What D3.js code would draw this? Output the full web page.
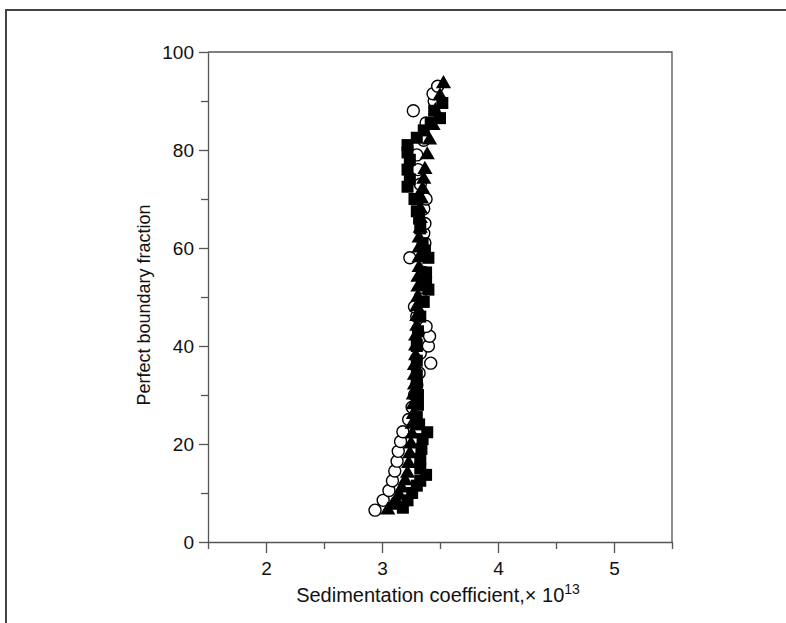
<!DOCTYPE html>
<html>
<head>
<meta charset="utf-8">
<script src="https://cdn.jsdelivr.net/npm/d3@7"></script>
<style>
  body { margin: 0; background: #fff; }
  svg { display: block; font-family: "Liberation Sans", Arial, sans-serif; }
  .axis text { font-size: 19px; fill: #111; }
  .axis line, .axis path { stroke: #555; stroke-width: 1.3; }
</style>
</head>
<body>
<div id="chart"></div>
<script>
// Perfect boundary fraction vs sedimentation coefficient, three runs

const xTicks = [2, 3, 4, 5]
const xMinor = [1.5, 2.5, 3.5, 4.5, 5.5]
const yTicks = [0, 20, 40, 60, 80, 100]
const yMinor = [10, 30, 50, 70, 90]

// open circles
const circleX = [2.94, 3.01, 3.06, 3.09, 3.11, 3.13, 3.14, 3.16, 3.18, 3.23, 3.26, 3.28, 3.30, 3.32, 3.42, 3.33, 3.40, 3.41, 3.38, 3.30, 3.28, 3.33, 3.34, 3.36, 3.24, 3.37, 3.36, 3.37, 3.36, 3.38, 3.33, 3.31, 3.30, 3.36, 3.38, 3.27, 3.45, 3.44, 3.48]
const circleY = [6.5, 8.5, 10.5, 12.5, 14.5, 16.5, 18.5, 20.5, 22.5, 25, 27.5, 30, 32, 34.5, 36.5, 38.5, 40, 42, 44, 46, 48, 50, 52, 55, 58, 61, 63, 65, 68, 70, 73, 76, 79, 82, 85.5, 88, 90, 91.5, 93]

// filled squares
const squareX = [3.18, 3.22, 3.26, 3.30, 3.33, 3.38, 3.33, 3.33, 3.34, 3.35, 3.39, 3.32, 3.30, 3.31, 3.31, 3.30, 3.30, 3.30, 3.30, 3.31, 3.33, 3.36, 3.40, 3.38, 3.38, 3.40, 3.37, 3.35, 3.33, 3.32, 3.30, 3.28, 3.22, 3.24, 3.22, 3.24, 3.22, 3.22, 3.30, 3.36, 3.42, 3.50, 3.45, 3.52]
const squareY = [7, 8.5, 10, 11.5, 12.5, 13.7, 15, 17, 19, 21, 22.4, 24, 25.5, 28, 30, 32, 34, 37, 40, 43, 46, 49, 51.5, 53, 55, 58, 59.5, 61, 64, 66, 67.5, 70, 72.5, 74, 76, 78, 79.5, 81, 82.5, 84, 85.5, 86.5, 88, 89.6]

// filled triangles
const triX = [3.05, 3.09, 3.12, 3.15, 3.17, 3.20, 3.22, 3.23, 3.24, 3.25, 3.26, 3.26, 3.27, 3.27, 3.27, 3.28, 3.28, 3.28, 3.29, 3.29, 3.29, 3.30, 3.30, 3.30, 3.31, 3.31, 3.31, 3.32, 3.32, 3.32, 3.32, 3.33, 3.33, 3.33, 3.34, 3.35, 3.36, 3.37, 3.39, 3.41, 3.44, 3.46, 3.50, 3.53]
const triY = [6.5, 7.5, 8.5, 9.5, 11, 12.5, 14, 16, 18, 20, 22, 24, 26, 28, 30, 32, 34, 36, 38, 40, 42, 44, 46, 48, 50, 52, 54, 56, 58, 60, 62, 64, 66, 68, 70, 72, 74, 76, 79, 82, 85, 88, 91, 93.5]

const width = 786, height = 623
const plot = { left: 208, right: 672, top: 52, bottom: 542 }

const svg = d3.select('#chart').append('svg')
  .attr('width', width)
  .attr('height', height)

// page frame (top and left only)
svg.append('path')
  .attr('d', 'M6,' + height + ' V10 H' + width)
  .attr('fill', 'none')
  .attr('stroke', '#444')
  .attr('stroke-width', 2)

const x = d3.scaleLinear().domain([1.5, 5.5]).range([plot.left, plot.right])
const y = d3.scaleLinear().domain([0, 100]).range([plot.bottom, plot.top])

// box top / right
svg.append('path')
  .attr('d', 'M' + plot.left + ',' + plot.top + ' H' + plot.right + ' V' + plot.bottom)
  .attr('fill', 'none')
  .attr('stroke', '#555')
  .attr('stroke-width', 1.3)

// x axis
svg.append('g')
  .attr('class', 'axis')
  .attr('transform', 'translate(0,' + plot.bottom + ')')
  .call(d3.axisBottom(x).tickValues(xTicks).tickFormat(d3.format('d'))
    .tickSize(11).tickPadding(9).tickSizeOuter(0))
svg.append('g')
  .attr('class', 'axis')
  .attr('transform', 'translate(0,' + plot.bottom + ')')
  .call(d3.axisBottom(x).tickValues(xMinor).tickSize(7).tickFormat(''))
  .call(g => g.select('.domain').remove())

// y axis
svg.append('g')
  .attr('class', 'axis')
  .attr('transform', 'translate(' + plot.left + ',0)')
  .call(d3.axisLeft(y).tickValues(yTicks).tickSize(9).tickPadding(5).tickSizeOuter(0))
svg.append('g')
  .attr('class', 'axis')
  .attr('transform', 'translate(' + plot.left + ',0)')
  .call(d3.axisLeft(y).tickValues(yMinor).tickSize(7).tickFormat(''))
  .call(g => g.select('.domain').remove())

// axis titles
svg.append('text')
  .attr('transform', 'translate(150,' + ((plot.top + plot.bottom) / 2 + 8) + ') rotate(-90)')
  .attr('text-anchor', 'middle')
  .style('font-size', '18px')
  .style('fill', '#111')
  .text('Perfect boundary fraction')

const xt = svg.append('text')
  .attr('x', (plot.left + plot.right) / 2 - 2)
  .attr('y', 602)
  .attr('text-anchor', 'middle')
  .style('font-size', '20px')
  .style('fill', '#111')
xt.append('tspan').text('Sedimentation coefficient,\u00d7 10')
xt.append('tspan').attr('dy', -8).style('font-size', '14px').text('13')

// markers
const pts = (xs, ys) => xs.map((v, i) => ({ x: v, y: ys[i] }))

svg.append('g').selectAll('circle')
  .data(pts(circleX, circleY))
  .join('circle')
  .attr('cx', d => x(d.x))
  .attr('cy', d => y(d.y))
  .attr('r', 6)
  .attr('fill', '#fff')
  .attr('stroke', '#000')
  .attr('stroke-width', 1.4)

svg.append('g').selectAll('path')
  .data(pts(triX, triY))
  .join('path')
  .attr('transform', d => 'translate(' + x(d.x) + ',' + y(d.y) + ')')
  .attr('d', d3.symbol(d3.symbolTriangle, 100))
  .attr('fill', '#000')

svg.append('g').selectAll('rect')
  .data(pts(squareX, squareY))
  .join('rect')
  .attr('x', d => x(d.x) - 6)
  .attr('y', d => y(d.y) - 6)
  .attr('width', 12)
  .attr('height', 12)
  .attr('fill', '#000')
</script>
</body>
</html>
